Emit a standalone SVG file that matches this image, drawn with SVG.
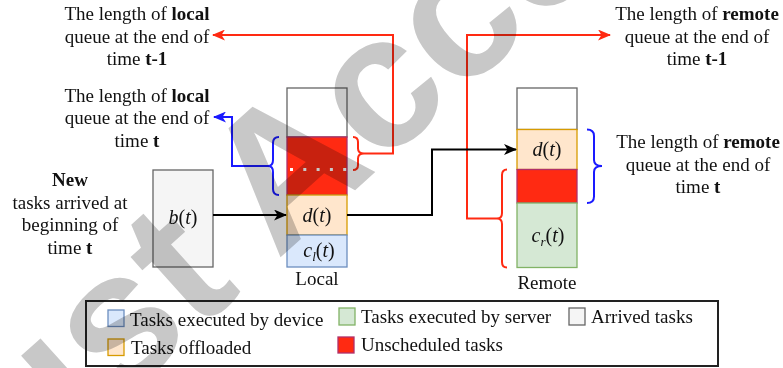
<svg xmlns="http://www.w3.org/2000/svg" width="783" height="368" viewBox="0 0 783 368">
<style>
.t{font-family:"Liberation Serif","Times New Roman",serif;font-size:19px;fill:#111;text-anchor:middle}
.b{font-weight:bold}
.i{font-style:italic}
.m{font-family:"Liberation Serif","Times New Roman",serif;font-size:20px;fill:#111;text-anchor:middle}
.lg{font-family:"Liberation Serif","Times New Roman",serif;font-size:19px;fill:#111}
.wire{fill:none;stroke-width:2}
.cell{stroke-width:1.3}
.blue{fill:#dae8fc;stroke:#6c8ebf}
.orange{fill:#ffe6cc;stroke:#d79b00}
.green{fill:#d5e8d4;stroke:#82b366}
.gray{fill:#f5f5f5;stroke:#666}
.red{fill:#ff2a12;stroke:#b0306a}
.empty{fill:#fff;stroke:#666}
.wm{font-family:"Liberation Sans",Arial,sans-serif;font-weight:bold;font-size:190px;fill:#c8c8c8;mix-blend-mode:multiply}
</style>
<defs>
<marker id="ak" markerUnits="userSpaceOnUse" markerWidth="13" markerHeight="11" refX="12" refY="5.5" orient="auto" viewBox="0 0 13 11"><path d="M0,0 L13,5.5 L0,11 L3.5,5.5 z" fill="#000"/></marker>
<marker id="ar" markerUnits="userSpaceOnUse" markerWidth="13" markerHeight="11" refX="12" refY="5.5" orient="auto" viewBox="0 0 13 11"><path d="M0,0 L13,5.5 L0,11 L3.5,5.5 z" fill="#ff2a12"/></marker>
<marker id="ab" markerUnits="userSpaceOnUse" markerWidth="13" markerHeight="11" refX="12" refY="5.5" orient="auto" viewBox="0 0 13 11"><path d="M0,0 L13,5.5 L0,11 L3.5,5.5 z" fill="#1a1aff"/></marker>
</defs>
<rect width="783" height="368" fill="#fff"/>

<!-- annotations -->
<g id="label-local-prev">
<text class="t" x="137" y="20">The length of <tspan class="b">local</tspan></text>
<text class="t" x="137" y="42.5">queue at the end of</text>
<text class="t" x="137" y="65">time <tspan class="b">t-1</tspan></text>
</g>
<g id="label-local-now">
<text class="t" x="137" y="101.5">The length of <tspan class="b">local</tspan></text>
<text class="t" x="137" y="124">queue at the end of</text>
<text class="t" x="137" y="146.5">time <tspan class="b">t</tspan></text>
</g>
<g id="label-remote-prev">
<text class="t" x="697" y="20">The length of <tspan class="b">remote</tspan></text>
<text class="t" x="697" y="42.5">queue at the end of</text>
<text class="t" x="697" y="65">time <tspan class="b">t-1</tspan></text>
</g>
<g id="label-remote-now">
<text class="t" x="698" y="148">The length of <tspan class="b">remote</tspan></text>
<text class="t" x="698" y="170.5">queue at the end of</text>
<text class="t" x="698" y="193">time <tspan class="b">t</tspan></text>
</g>
<g id="label-new">
<text class="t" x="70" y="186"><tspan class="b">New</tspan></text>
<text class="t" x="70" y="208.5">tasks arrived at</text>
<text class="t" x="70" y="231">beginning of</text>
<text class="t" x="70" y="253.5">time <tspan class="b">t</tspan></text>
</g>

<!-- arrivals -->
<g id="arrivals">
<rect class="gray cell" x="153" y="170" width="60" height="97"/>
<text class="m" x="183" y="223.5"><tspan class="i">b</tspan>(<tspan class="i">t</tspan>)</text>
</g>

<!-- local queue -->
<g id="local-queue">
<rect class="empty cell" x="287" y="88" width="60" height="49"/>
<rect class="red cell" x="287" y="137" width="60" height="58"/>
<line x1="290" y1="169.5" x2="347" y2="169.5" stroke="#fff" stroke-width="3" stroke-dasharray="3 10.3"/>
<rect class="orange cell" x="287" y="195" width="60" height="40"/>
<text class="m" x="317" y="221.5"><tspan class="i">d</tspan>(<tspan class="i">t</tspan>)</text>
<rect class="blue cell" x="287" y="235" width="60" height="32"/>
<text class="m" x="319" y="257"><tspan class="i">c</tspan><tspan class="i" font-size="13" dy="4">l</tspan><tspan dy="-4">(</tspan><tspan class="i">t</tspan>)</text>
<text class="t" x="317" y="285">Local</text>
</g>

<!-- remote queue -->
<g id="remote-queue">
<rect class="empty cell" x="517" y="88" width="60" height="41.5"/>
<rect class="orange cell" x="517" y="129.5" width="60" height="40"/>
<text class="m" x="547" y="155.5"><tspan class="i">d</tspan>(<tspan class="i">t</tspan>)</text>
<rect class="red cell" x="517" y="169.5" width="60" height="33.5"/>
<rect class="green cell" x="517" y="203" width="60" height="64.5"/>
<text class="m" x="548" y="242"><tspan class="i">c</tspan><tspan class="i" font-size="13" dy="4">r</tspan><tspan dy="-4">(</tspan><tspan class="i">t</tspan>)</text>
<text class="t" x="547" y="289">Remote</text>
</g>

<!-- braces and connectors -->
<g id="connectors">
<path class="wire" stroke="#1a1aff" d="M279,137 Q273,137 273,143 L273,160 Q273,166 268,166 Q273,166 273,172 L273,189 Q273,195 279,195"/>
<path class="wire" stroke="#ff2a12" d="M353,137 Q358,137 358,142 L358,148.5 Q358,153.5 364,153.5 Q358,153.5 358,158.5 L358,165 Q358,170 353,170"/>
<path class="wire" stroke="#1a1aff" d="M587,129.5 Q594,129.5 594,136 L594,160 Q594,166 602,166 Q594,166 594,172 L594,196.5 Q594,203 587,203"/>
<path class="wire" stroke="#ff2a12" d="M507,169.5 Q502,169.5 502,175 L502,213 Q502,218.5 497,218.5 Q502,218.5 502,224 L502,262 Q502,267.5 507,267.5"/>
<path class="wire" stroke="#1a1aff" marker-end="url(#ab)" d="M268,166 H232 V117 H214"/>
<path class="wire" stroke="#ff2a12" marker-end="url(#ar)" d="M364,153.5 H393 V35 H213"/>
<path class="wire" stroke="#ff2a12" marker-end="url(#ar)" d="M497,218.5 H467 V35 H610"/>
<path class="wire" stroke="#000" marker-end="url(#ak)" d="M213,215 H286"/>
<path class="wire" stroke="#000" marker-end="url(#ak)" d="M347,215 H432 V149.5 H516"/>
</g>

<!-- legend -->
<g id="legend">
<rect x="86" y="301" width="632" height="65" fill="none" stroke="#222" stroke-width="2"/>
<rect class="blue cell" x="108" y="310" width="16" height="16.5"/>
<text class="lg" x="130" y="325.5">Tasks executed by device</text>
<rect class="green cell" x="339" y="308" width="16" height="17"/>
<text class="lg" x="361" y="323">Tasks executed by server</text>
<rect class="gray cell" x="569" y="308" width="16" height="17"/>
<text class="lg" x="591" y="323">Arrived tasks</text>
<rect class="orange cell" x="108" y="339" width="16" height="16.5"/>
<text class="lg" x="131" y="354">Tasks offloaded</text>
<rect class="red cell" x="338" y="337" width="16" height="16"/>
<text class="lg" x="361" y="351">Unscheduled tasks</text>
</g>

<text class="wm" transform="translate(282,256) rotate(-42)" x="-443" y="0">Just Accepted</text>
</svg>
